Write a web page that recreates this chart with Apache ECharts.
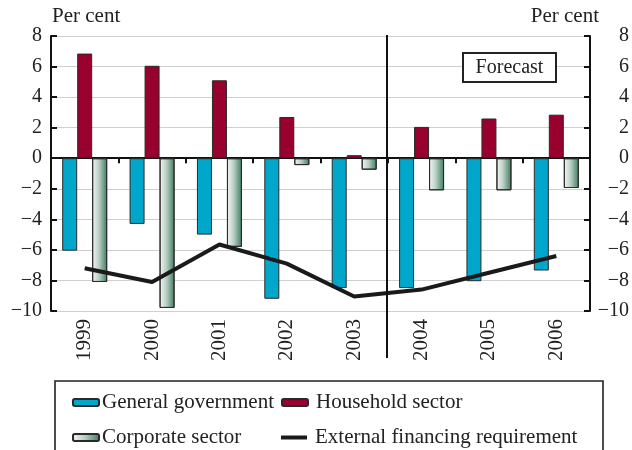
<!DOCTYPE html>
<html>
<head>
<meta charset="utf-8">
<script src="https://cdn.jsdelivr.net/npm/echarts@6/dist/echarts.min.js"></script>
<style>
  html, body { margin: 0; padding: 0; background: #fff; }
  #chart { width: 632px; height: 450px; }
</style>
</head>
<body>
<div id="chart"></div>
<script>
// Sector financial balances, per cent of GDP
const years = ['1999', '2000', '2001', '2002', '2003', '2004', '2005', '2006'];
const generalGovernment = [-6.05, -4.3, -5.0, -9.2, -8.5, -8.5, -8.05, -7.35];
const householdSector = [6.85, 6.05, 5.1, 2.7, 0.2, 2.05, 2.6, 2.85];
const corporateSector = [-8.1, -9.8, -5.8, -0.45, -0.75, -2.1, -2.1, -1.95];
const externalFinancing = [-7.2, -8.1, -5.65, -6.9, -9.05, -8.6, -7.5, -6.4];
const yTicks = { min: -10, max: 8, interval: 2 };
const firstForecastYear = '2004';

const FONT = 'Liberation Serif';
const fmt = v => String(v).replace('-', '\u2212');

const chart = echarts.init(document.getElementById('chart'));

const valueAxis = (pos) => ({
  type: 'value',
  position: pos,
  min: yTicks.min,
  max: yTicks.max,
  interval: yTicks.interval,
  axisLine: { show: true, lineStyle: { color: '#111', width: 2 } },
  axisTick: { show: true, inside: true, length: 6, lineStyle: { color: '#111', width: 2 } },
  splitLine: { show: pos === 'left', lineStyle: { color: '#cfcfcf', width: 1 } },
  axisLabel: pos === 'left'
    ? { formatter: fmt, color: '#222', fontFamily: FONT, fontSize: 20, margin: 9 }
    : { formatter: fmt, color: '#222', fontFamily: FONT, fontSize: 20, margin: 39, align: 'right' }
});

// one legend block per entry so the two columns line up
const legendItem = (name, left, top, textPad, extra) => Object.assign({
  left: left,
  top: top,
  itemWidth: 26,
  itemHeight: 7,
  padding: 0,
  textStyle: { fontFamily: FONT, fontSize: 21, color: '#222', padding: [0, 0, 0, textPad] },
  selectedMode: false,
  data: [name]
}, extra || {});

chart.setOption({
  animation: false,
  backgroundColor: '#fff',
  grid: { left: 51, right: 41, top: 36, bottom: 139, containLabel: false },
  legend: [
    legendItem('General government', 72, 392, -2),
    legendItem('Household sector', 281, 392, 3),
    legendItem('Corporate sector', 72, 427, -2),
    legendItem('External financing requirement', 281, 427, 3, {
      itemHeight: 4,
      data: [{ name: 'External financing requirement', icon: 'rect' }]
    })
  ],
  xAxis: [
    {
      type: 'category',
      data: years,
      axisLine: { show: true, onZero: true, onZeroAxisIndex: 0, lineStyle: { color: '#111', width: 2 } },
      axisTick: { show: true, length: 5, lineStyle: { color: '#111', width: 2 } },
      axisLabel: { show: false },
      splitLine: { show: false }
    },
    {
      type: 'category',
      data: years,
      position: 'bottom',
      axisLine: { show: false, onZero: false },
      axisTick: { show: false },
      axisLabel: { rotate: 90, color: '#222', fontFamily: FONT, fontSize: 21, margin: 8 },
      splitLine: { show: false }
    }
  ],
  yAxis: [valueAxis('left'), valueAxis('right')],
  series: [
    {
      name: 'General government',
      type: 'bar',
      data: generalGovernment,
      barWidth: 15,
      barGap: '0%',
      itemStyle: { color: '#00a7cb', borderColor: '#2a2a2a', borderWidth: 1 }
    },
    {
      name: 'Household sector',
      type: 'bar',
      data: householdSector,
      barWidth: 15,
      barGap: '0%',
      itemStyle: { color: '#98002e', borderColor: '#2a2a2a', borderWidth: 1 }
    },
    {
      name: 'Corporate sector',
      type: 'bar',
      data: corporateSector,
      barWidth: 15,
      barGap: '0%',
      itemStyle: {
        color: {
          type: 'linear', x: 0, y: 0, x2: 1, y2: 0,
          colorStops: [
            { offset: 0, color: '#f6f6f6' },
            { offset: 0.45, color: '#b9cfc4' },
            { offset: 1, color: '#3c7c5e' }
          ]
        },
        borderColor: '#2a2a2a',
        borderWidth: 1
      }
    },
    {
      name: 'External financing requirement',
      type: 'line',
      data: externalFinancing,
      symbol: 'none',
      lineStyle: { color: '#1a1a1a', width: 4 },
      itemStyle: { color: '#1a1a1a' },
      z: 5
    }
  ]
});

// Forecast divider, legend frame, unit captions and the forecast tag
const idx = years.indexOf(firstForecastYear);
const xA = chart.convertToPixel({ xAxisIndex: 0 }, years[idx - 1]);
const xB = chart.convertToPixel({ xAxisIndex: 0 }, years[idx]);
const divX = Math.round((xA + xB) / 2) - 1;
const yTop = chart.convertToPixel({ yAxisIndex: 0 }, yTicks.max);
const yBot = chart.convertToPixel({ yAxisIndex: 0 }, yTicks.min);

chart.setOption({
  graphic: [
    {
      type: 'line', z: 10,
      shape: { x1: divX, y1: yTop - 1, x2: divX, y2: yBot + 47 },
      style: { stroke: '#111', lineWidth: 2 }
    },
    {
      type: 'rect', z: 1,
      shape: { x: 55, y: 381, width: 548, height: 90 },
      style: { fill: 'none', stroke: '#222', lineWidth: 1.6 }
    },
    {
      type: 'text', left: 52, top: 6,
      style: { text: 'Per cent', font: '21px "Liberation Serif"', fill: '#222' }
    },
    {
      type: 'text', right: 33, top: 6,
      style: { text: 'Per cent', font: '21px "Liberation Serif"', fill: '#222' }
    },
    {
      type: 'group', left: 462, top: 52, z: 10,
      children: [
        {
          type: 'rect',
          shape: { x: 0, y: 0, width: 93, height: 29 },
          style: { fill: '#fff', stroke: '#222', lineWidth: 2 }
        },
        {
          type: 'text', x: 46.5, y: 14.5,
          style: {
            text: 'Forecast', font: '20px "Liberation Serif"', fill: '#222',
            align: 'center', verticalAlign: 'middle'
          }
        }
      ]
    }
  ]
});
</script>
</body>
</html>
